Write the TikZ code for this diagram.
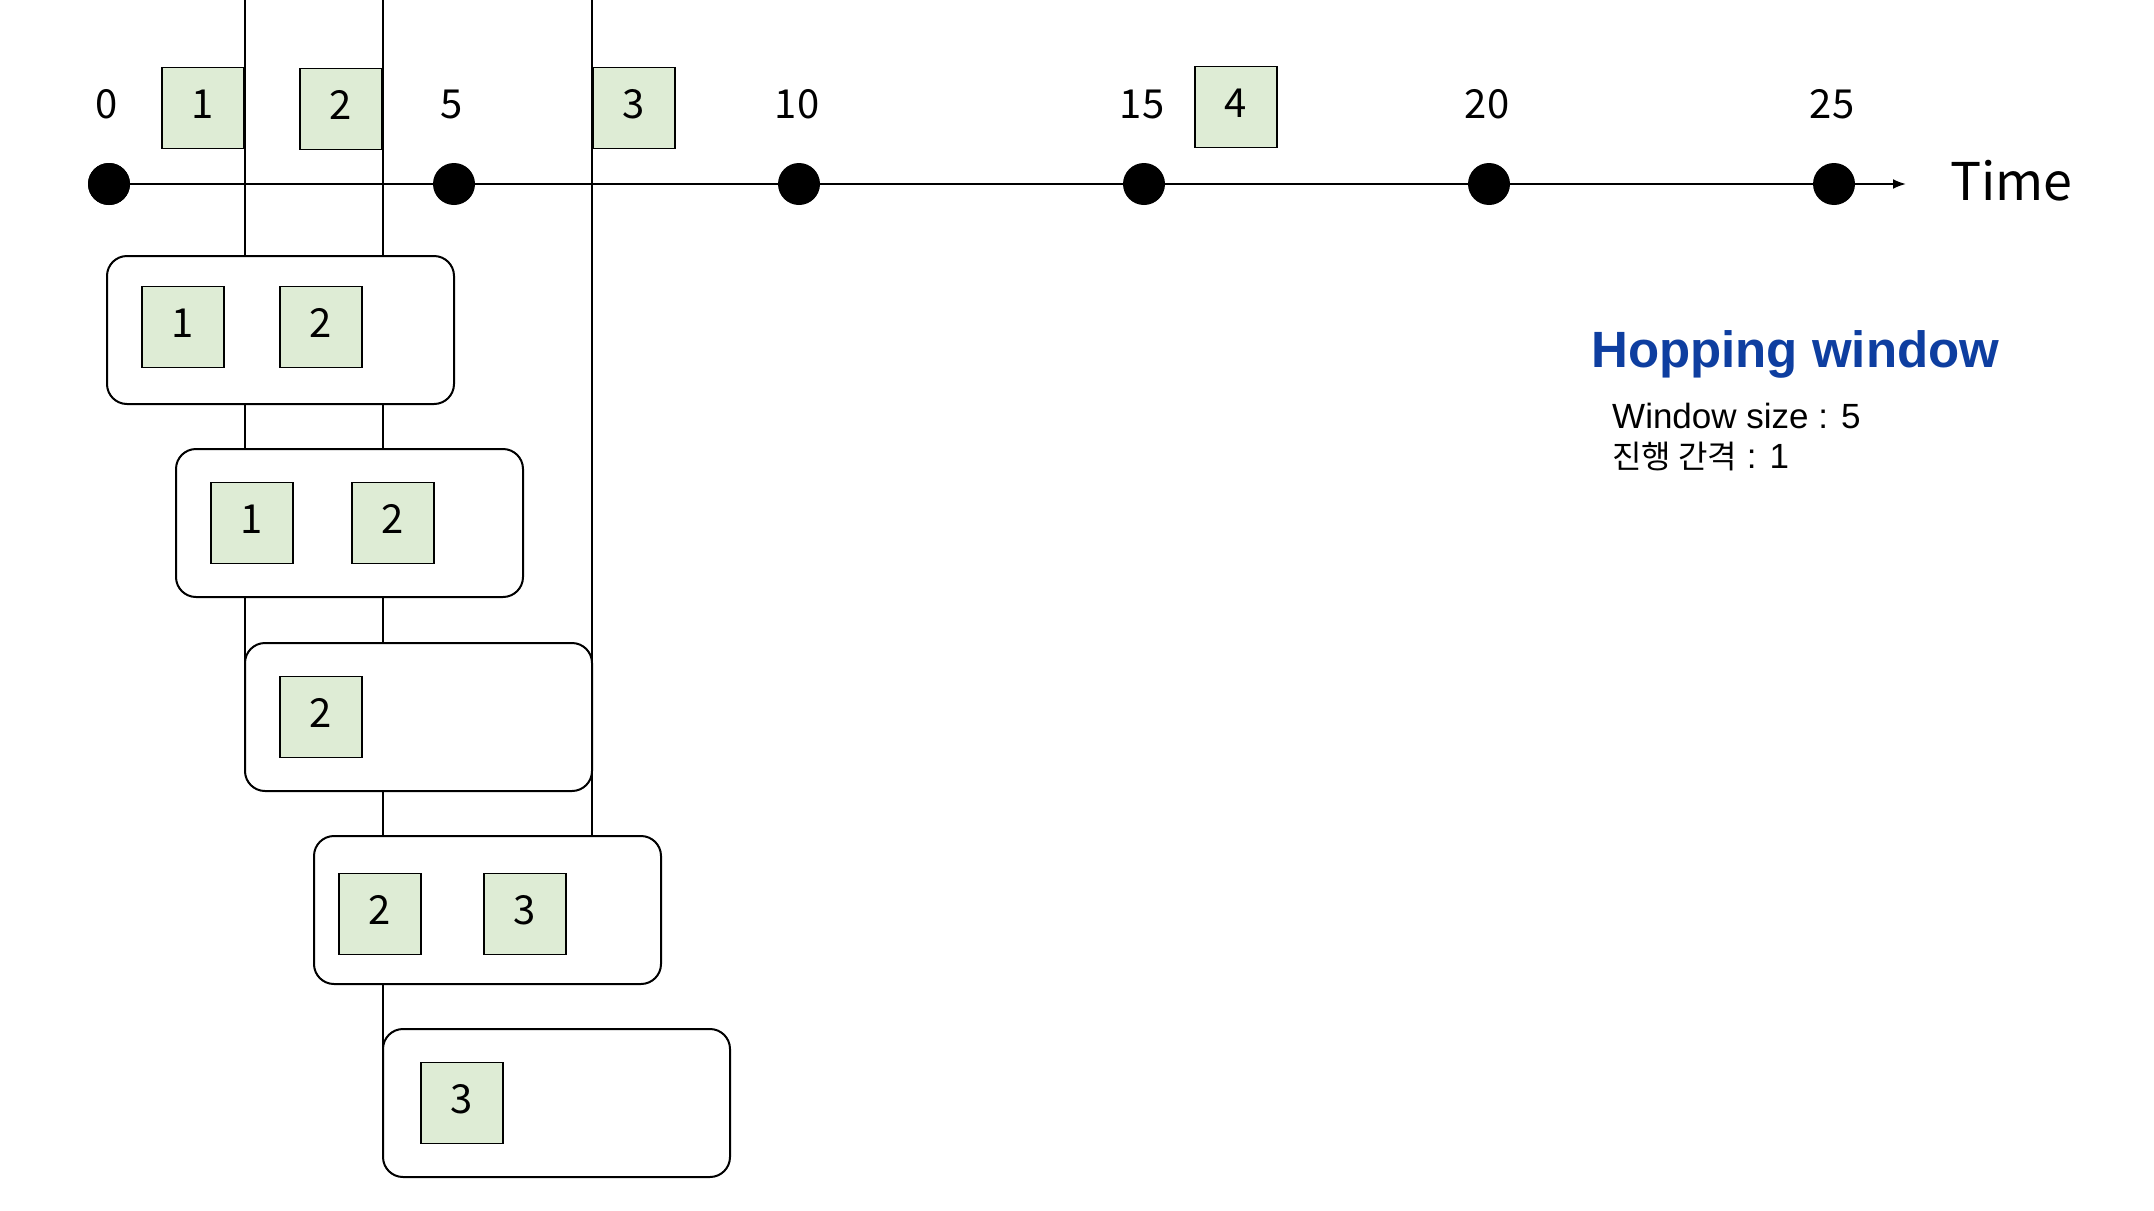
\documentclass[tikz,border=0pt]{standalone}
\usepackage{fontspec}
\setmainfont{Liberation Sans}
\newfontfamily\jpfont{Noto Sans CJK JP}
\newfontfamily\krfont{Noto Sans CJK KR}
\usetikzlibrary{arrows.meta}
\definecolor{evgreen}{RGB}{222,236,213}
\definecolor{hopblue}{RGB}{14,62,160}
\begin{document}
\begin{tikzpicture}[x=1pt,y=-1pt,
  evbox/.style={draw, line width=1.8pt, fill=evgreen, minimum width=82pt, minimum height=81pt,
    inner sep=0pt, font=\jpfont\fontsize{40}{40}\selectfont, text height=30pt, text depth=10pt},
  winbox/.style={draw, line width=2pt, rounded corners=20pt, minimum width=347pt,
    minimum height=148pt, inner sep=0pt},
  tdot/.style={circle, fill=black, minimum size=42pt, inner sep=0pt},
  ticklabel/.style={font=\jpfont\fontsize{40}{40}\selectfont, anchor=base, inner sep=0pt},
  vline/.style={line width=2pt},
]
\useasboundingbox (0,0) rectangle (2154,1210);

% windows
\node[winbox] (w1) at (280.5,330) {};
\node[winbox] (w2) at (349.5,523) {};
\node[winbox] (w3) at (418.5,717) {};
\node[winbox] (w4) at (487.5,910) {};
\node[winbox] (w5) at (556.5,1103) {};

% vertical event lines
\coordinate (lA) at (245,0);
\coordinate (lB) at (383,0);
\coordinate (lC) at (592,0);
\coordinate (w3j) at ([yshift=-20pt]w3.north west);
\coordinate (w5j) at ([yshift=-20pt]w5.north west);
\draw[vline] (lA) -- (w1.north -| lA);
\draw[vline] (w1.south -| lA) -- (w2.north -| lA);
\draw[vline] (w2.south -| lA) -- (w3j -| lA);
\draw[vline] (lB) -- (w1.north -| lB);
\draw[vline] (w1.south -| lB) -- (w2.north -| lB);
\draw[vline] (w2.south -| lB) -- (w3.north -| lB);
\draw[vline] (w3.south -| lB) -- (w4.north -| lB);
\draw[vline] (w4.south -| lB) -- (w5j -| lB);
\draw[vline] (lC) -- (w4.north -| lC);

% time axis
\coordinate (axend) at (1906,184);
\node[tdot] (d0) at (109,184) {};
\draw[line width=2pt, -{Latex[length=13pt,width=10pt]}] (d0.center) -- (axend);
\foreach \t in {0,5,10,15,20,25} {
  \node[tdot] (d\t) at ({109+69*\t},184) {};
  \node[ticklabel] (l\t) at ({107+69*\t},118) {\t};
}
\node[font=\jpfont\fontsize{52}{52}\selectfont, anchor=base west, inner sep=0pt] (time) at (1950,200) {Time};

% incoming events
\node[evbox] (e1) at (203,108) {1};
\node[evbox] (e2) at (341,109) {2};
\node[evbox] (e3) at (634,108) {3};
\node[evbox] (e4) at (1236,107) {4};

% window contents
\node[evbox] (w1a) at (183,327) {1};
\node[evbox] (w1b) at (321,327) {2};
\node[evbox] (w2a) at (252,523) {1};
\node[evbox] (w2b) at (393,523) {2};
\node[evbox] (w3a) at (321,717) {2};
\node[evbox] (w4a) at (380,914) {2};
\node[evbox] (w4b) at (525,914) {3};
\node[evbox] (w5a) at (462,1103) {3};

% legend text
\node[anchor=base west, inner sep=0pt, font=\bfseries\fontsize{51}{51}\selectfont, text=hopblue] (title) at (1591,367) {Hopping window};
\node[anchor=base west, inner sep=0pt, font=\fontsize{35}{35}\selectfont] (wsize) at (1612,428) {Window size : 5};
\node[anchor=base west, inner sep=0pt, font=\fontsize{35}{35}\selectfont] (hop) at (1612,468) {{\krfont\fontsize{32}{32}\selectfont 진행 간격} : 1};
\end{tikzpicture}
\end{document}
